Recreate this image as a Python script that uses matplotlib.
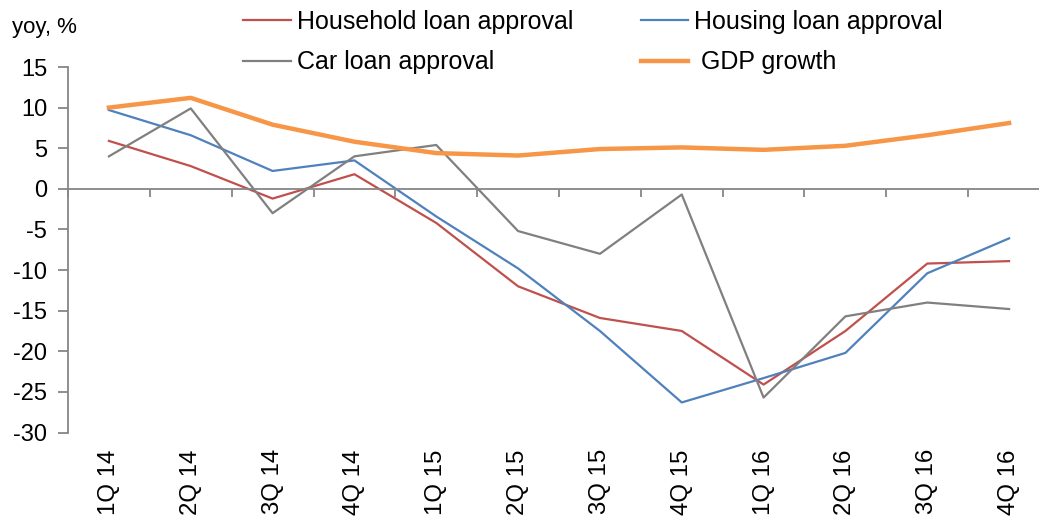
import numpy as np
import matplotlib
matplotlib.use("Agg")
import matplotlib.pyplot as plt

plt.rcParams['font.family'] = ['Liberation Sans', 'DejaVu Sans']
plt.rcParams['axes.unicode_minus'] = False

# Data
quarters = ['1Q 14', '2Q 14', '3Q 14', '4Q 14', '1Q 15', '2Q 15',
            '3Q 15', '4Q 15', '1Q 16', '2Q 16', '3Q 16', '4Q 16']
household = [5.9, 2.8, -1.2, 1.8, -4.2, -12.0, -15.9, -17.5, -24.1, -17.5, -9.2, -8.9]
housing = [9.7, 6.6, 2.2, 3.5, -3.4, -9.8, -17.5, -26.3, -23.3, -20.2, -10.4, -6.1]
car = [4.0, 9.9, -3.0, 4.0, 5.4, -5.2, -8.0, -0.7, -25.7, -15.7, -14.0, -14.8]
gdp = [10.0, 11.2, 7.9, 5.8, 4.4, 4.1, 4.9, 5.1, 4.8, 5.3, 6.6, 8.1]

axis_col = '#868686'

fig = plt.figure(figsize=(10.39, 5.17), dpi=100)
ax = fig.add_axes([68 / 1039, 1 - 432.5 / 517, 982 / 1039, 365.5 / 517])

x = np.arange(len(quarters))
l1, = ax.plot(x, household, color='#C0504D', lw=1.6, label='Household loan approval')
l2, = ax.plot(x, housing, color='#4F81BD', lw=1.6, label='Housing loan approval')
l3, = ax.plot(x, car, color='#808080', lw=1.6, label='Car loan approval')
l4, = ax.plot(x, gdp, color='#F79646', lw=3.2, label=' GDP growth')

ax.set_xlim(-0.5, len(quarters) - 0.5)
ax.set_ylim(-30, 15)
ax.set_yticks(np.arange(-30, 16, 5))

# axis crossing at zero
for s in ['top', 'right']:
    ax.spines[s].set_visible(False)
ax.spines['bottom'].set_position(('data', 0))
ax.spines['bottom'].set_color(axis_col)
ax.spines['bottom'].set_linewidth(1.3)
ax.spines['left'].set_color(axis_col)
ax.spines['left'].set_linewidth(1.3)
ax.set_xticks(np.arange(-0.5, len(quarters), 1.0))
ax.tick_params(axis='x', direction='out', length=6, width=1.3, color=axis_col,
               labelbottom=False)
ax.tick_params(axis='y', direction='out', length=7, width=1.3, color=axis_col,
               labelsize=17, pad=8)

# category labels at the bottom of the plot area
sec = ax.secondary_xaxis(0.0)
sec.set_xticks(x)
sec.set_xticklabels(quarters, rotation=90, fontsize=17.3)
sec.tick_params(length=0, pad=12)
sec.spines['bottom'].set_visible(False)

fig.text(12 / 1039, 1 - 28 / 517, 'yoy, %', fontsize=16, va='center', ha='left')

fig.legend(handles=[l1, l3, l2, l4], ncol=2, frameon=False, fontsize=18,
           loc='upper left', bbox_to_anchor=(243 / 1039, 1 - 10 / 517),
           borderpad=0, borderaxespad=0,
           handlelength=1.9, handletextpad=0.25, columnspacing=2.7,
           labelspacing=0.65)

fig.savefig('out.png', dpi=100)
